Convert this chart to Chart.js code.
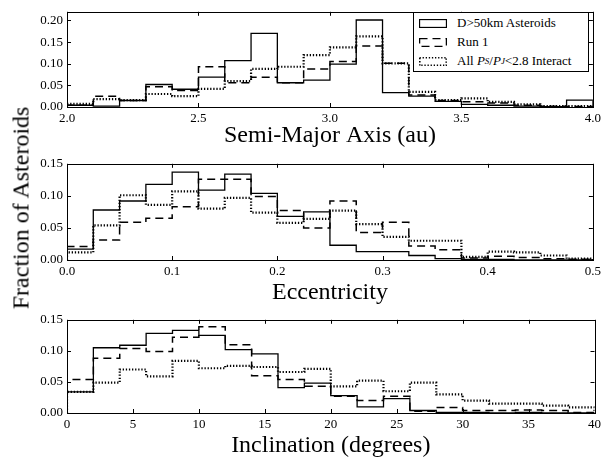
<!DOCTYPE html>
<html>
<head>
<meta charset="utf-8">
<script src="https://cdn.jsdelivr.net/npm/chart.js@4.4.1/dist/chart.umd.min.js"></script>
<style>
  body { margin: 0; background: #fff; width: 605px; height: 458px; position: relative; overflow: hidden; font-family: 'Liberation Serif', 'Times New Roman', serif; }
  canvas { position: absolute; left: 0; }
  #ylab { position: absolute; left: 21px; top: 208px; transform: translate(-50%, -50%) rotate(-90deg); font-size: 24px; white-space: nowrap; }
  #legend { position: absolute; left: 413px; top: 12px; width: 174px; height: 58px; border: 1px solid #000; background: #fff; font-size: 13px; }
  #legend .row { position: absolute; left: 5px; height: 14px; display: flex; align-items: center; white-space: nowrap; }
  #legend svg { margin-right: 10px; }
  sub { font-size: 9px; vertical-align: -3px; }
</style>
</head>
<body>
<canvas id="c1" width="605" height="152" style="top:0px"></canvas>
<canvas id="c2" width="605" height="156" style="top:152px"></canvas>
<canvas id="c3" width="605" height="150" style="top:308px"></canvas>
<div id="ylab">Fraction of Asteroids</div>
<div id="legend">
  <div class="row" style="top:3px"><svg width="28" height="9"><rect x="0.5" y="0.5" width="27" height="8" fill="none" stroke="#000" stroke-width="1.3"/></svg>D&gt;50km Asteroids</div>
  <div class="row" style="top:22px"><svg width="28" height="9"><rect x="0.5" y="0.5" width="27" height="8" fill="none" stroke="#000" stroke-width="1.5" stroke-dasharray="8 5"/></svg>Run 1</div>
  <div class="row" style="top:41px"><svg width="28" height="9"><rect x="0.5" y="0.5" width="27" height="8" fill="none" stroke="#000" stroke-width="2.2" stroke-dasharray="1.3 1.8"/></svg>All <i>&nbsp;P</i><sub><i>S</i></sub>/<i>P</i><sub><i>J</i></sub>&lt;2.8 Interact</div>
</div>
<script>
// bin edges
const semiMajorBins = [2.0, 2.1, 2.2, 2.3, 2.4, 2.5, 2.6, 2.7, 2.8, 2.9, 3.0, 3.1, 3.2, 3.3, 3.4, 3.5, 3.6, 3.7, 3.8, 3.9, 4.0];
const eccBins = [0, 0.025, 0.05, 0.075, 0.1, 0.125, 0.15, 0.175, 0.2, 0.225, 0.25, 0.275, 0.3, 0.325, 0.35, 0.375, 0.4, 0.425, 0.45, 0.475, 0.5];
const incBins = [0, 2, 4, 6, 8, 10, 12, 14, 16, 18, 20, 22, 24, 26, 28, 30, 32, 34, 36, 38, 40];

// fractions per bin
const asteroidsA = [0.004, 0.002, 0.015, 0.052, 0.041, 0.069, 0.107, 0.170, 0.056, 0.062, 0.099, 0.201, 0.033, 0.025, 0.013, 0.006, 0.004, 0.002, 0.001, 0.016];
const run1A      = [0.004, 0.025, 0.015, 0.047, 0.038, 0.093, 0.056, 0.069, 0.056, 0.088, 0.105, 0.141, 0.101, 0.028, 0.015, 0.012, 0.009, 0.004, 0.002, 0.001];
const interactA  = [0.007, 0.018, 0.016, 0.030, 0.025, 0.042, 0.060, 0.088, 0.093, 0.120, 0.138, 0.163, 0.101, 0.035, 0.016, 0.020, 0.012, 0.006, 0.002, 0.002];

const asteroidsE = [0.017, 0.078, 0.092, 0.118, 0.137, 0.109, 0.134, 0.104, 0.068, 0.075, 0.023, 0.013, 0.013, 0.007, 0.002, 0.001, 0.001, 0, 0, 0];
const run1E      = [0.021, 0.031, 0.059, 0.065, 0.083, 0.126, 0.126, 0.099, 0.077, 0.050, 0.092, 0.043, 0.059, 0.022, 0.016, 0.003, 0.006, 0.004, 0.002, 0.001];
const interactE  = [0.012, 0.054, 0.101, 0.086, 0.107, 0.080, 0.097, 0.074, 0.058, 0.064, 0.077, 0.056, 0.036, 0.030, 0.030, 0.005, 0.013, 0.012, 0.007, 0.002];

const asteroidsI = [0.034, 0.105, 0.109, 0.128, 0.133, 0.125, 0.102, 0.095, 0.041, 0.048, 0.028, 0.010, 0.023, 0.004, 0.001, 0.001, 0, 0.001, 0, 0];
const run1I      = [0.054, 0.088, 0.104, 0.099, 0.122, 0.139, 0.110, 0.060, 0.054, 0.043, 0.027, 0.020, 0.027, 0.003, 0.009, 0.004, 0.004, 0.005, 0.004, 0.001];
const interactI  = [0.034, 0.049, 0.070, 0.059, 0.084, 0.072, 0.076, 0.074, 0.066, 0.071, 0.043, 0.052, 0.035, 0.049, 0.030, 0.020, 0.015, 0.015, 0.012, 0.009];

const SERIF = "'Liberation Serif', 'Times New Roman', serif";
Chart.defaults.color = '#000';
Chart.defaults.font.family = SERIF;

// step outline like histtype='step'
function stepPoints(edges, vals) {
  const pts = [{ x: edges[0], y: 0 }];
  vals.forEach((v, i) => pts.push({ x: edges[i], y: v }));
  pts.push({ x: edges[edges.length - 1], y: 0 });
  return pts;
}

// box + inward ticks on all four sides
const frameTicks = {
  id: 'frameTicks',
  afterDraw(chart) {
    const { ctx, chartArea: a, scales } = chart;
    ctx.save();
    ctx.strokeStyle = '#000';
    ctx.lineWidth = 1;
    ctx.beginPath();
    scales.x.ticks.forEach(t => {
      const px = Math.round(scales.x.getPixelForValue(t.value)) + 0.5;
      ctx.moveTo(px, a.bottom); ctx.lineTo(px, a.bottom - 4);
      ctx.moveTo(px, a.top); ctx.lineTo(px, a.top + 4);
    });
    scales.y.ticks.forEach(t => {
      const py = Math.round(scales.y.getPixelForValue(t.value)) + 0.5;
      ctx.moveTo(a.left, py); ctx.lineTo(a.left + 4, py);
      ctx.moveTo(a.right, py); ctx.lineTo(a.right - 4, py);
    });
    ctx.stroke();
    ctx.strokeRect(Math.round(a.left) + 0.5, Math.round(a.top) + 0.5, Math.round(a.right - a.left), Math.round(a.bottom - a.top));
    ctx.restore();
  }
};

function makePanel(id, edges, s1, s2, s3, opt) {
  new Chart(document.getElementById(id), {
    type: 'line',
    data: {
      datasets: [
        { label: 'D>50km Asteroids', data: stepPoints(edges, s1), borderColor: '#000', borderWidth: 1.3, stepped: true, pointRadius: 0 },
        { label: 'Run 1', data: stepPoints(edges, s2), borderColor: '#000', borderWidth: 1.5, borderDash: [8, 5], stepped: true, pointRadius: 0 },
        { label: 'All Ps/Pj<2.8 Interact', data: stepPoints(edges, s3), borderColor: '#000', borderWidth: 2.2, borderDash: [1.3, 1.8], stepped: true, pointRadius: 0 }
      ]
    },
    options: {
      responsive: false,
      animation: false,
      layout: { padding: { left: 0, right: 10, top: opt.top, bottom: 0 } },
      plugins: { legend: { display: false }, tooltip: { enabled: false } },
      scales: {
        x: {
          type: 'linear', min: edges[0], max: edges[edges.length - 1],
          grid: { display: false, drawTicks: false },
          border: { display: false },
          ticks: { stepSize: opt.xStep, padding: 4, color: '#000', font: { family: SERIF, size: 13 }, maxRotation: 0, callback: v => v.toFixed(opt.xDec) },
          title: { display: true, text: opt.title, color: '#000', font: { family: SERIF, size: 24, lineHeight: 1.0 }, padding: { top: 0, bottom: opt.titlePad } },
          afterFit: s => { s.height = opt.xHeight; }
        },
        y: {
          min: 0, max: opt.yMax,
          grid: { display: false, drawTicks: false },
          border: { display: false },
          ticks: { stepSize: 0.05, includeBounds: false, padding: 4, color: '#000', font: { family: SERIF, size: 13 }, callback: v => v.toFixed(2) },
          afterFit: s => { s.width = 67; }
        }
      }
    },
    plugins: [frameTicks]
  });
}

makePanel('c1', semiMajorBins, asteroidsA, run1A, interactA,
  { top: 6, xHeight: 45, yMax: 0.22, xStep: 0.5, xDec: 1, title: 'Semi-Major Axis (au)', titlePad: 4 });
makePanel('c2', eccBins, asteroidsE, run1E, interactE,
  { top: 7, xHeight: 48, yMax: 0.15, xStep: 0.1, xDec: 1, title: 'Eccentricity', titlePad: 3 });
makePanel('c3', incBins, asteroidsI, run1I, interactI,
  { top: 4, xHeight: 45, yMax: 0.15, xStep: 5, xDec: 0, title: 'Inclination (degrees)', titlePad: 0 });
</script>
</body>
</html>
